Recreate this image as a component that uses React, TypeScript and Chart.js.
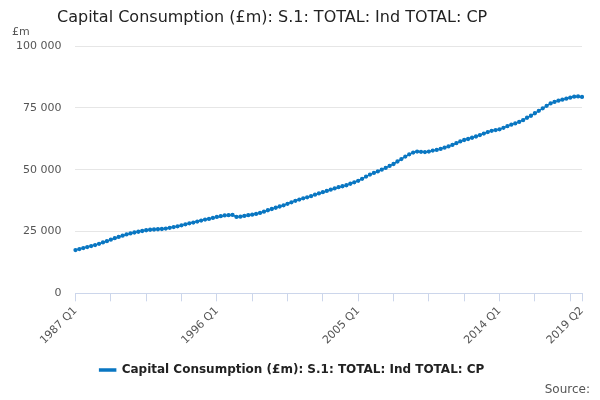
import React, { useEffect, useRef } from "react";
import { Chart, registerables } from "chart.js";
Chart.register(...registerables);

const seriesName = "Capital Consumption (£m): S.1: TOTAL: Ind TOTAL: CP";
const startYear = 1987;
const values: number[] = [
  17500,17900,18300,18700, 19100,19500,20000,20600, 21100,21700,22300,22800,
  23300,23800,24200,24600, 24900,25200,25500,25700, 25800,25900,26000,26200,
  26500,26800,27100,27500, 27900,28300,28600,29000, 29400,29800,30100,30500,
  30900,31200,31500,31600, 31700,30900,31000,31300, 31600,31800,32100,32500,
  33000,33600,34100,34600, 35100,35600,36200,36800, 37400,37900,38400,38800,
  39300,39900,40400,40900, 41400,41900,42400,42900, 43300,43700,44300,44900,
  45500,46300,47200,48000, 48700,49300,50000,50700, 51500,52300,53300,54300,
  55300,56200,56900,57300, 57200,57100,57300,57700, 58000,58400,58900,59400,
  60000,60700,61400,62000, 62400,62900,63400,64000, 64600,65200,65700,66000,
  66300,66900,67600,68200, 68700,69300,70000,71000, 71800,72800,73800,74800,
  75800,76800,77400,77900, 78300,78700,79100,79500, 79600,79400,
];
const labels: string[] = values.map((_, i) => `${startYear + Math.floor(i / 4)} Q${(i % 4) + 1}`);
const shownLabels = [0, 36, 72, 108, values.length - 1];

const fmt = (v: number) => String(v).replace(/\B(?=(\d{3})+(?!\d))/g, " ");

export default function App() {
  const ref = useRef<HTMLCanvasElement>(null);
  useEffect(() => {
    const extras = {
      id: "extras",
      afterDraw(c: any) {
        const ctx = c.ctx;
        ctx.save();
        ctx.fillStyle = "#222";
        ctx.font = "16px 'DejaVu Sans', sans-serif";
        ctx.textBaseline = "middle";
        ctx.fillText(seriesName, 57, 18);
        ctx.font = "11px 'DejaVu Sans', sans-serif";
        ctx.fillStyle = "#555";
        ctx.fillText("£m", 12, 32);
        ctx.font = "12px 'DejaVu Sans', sans-serif";
        ctx.textAlign = "right";
        ctx.fillText("Source:", 590, 390);
        ctx.restore();
      },
    };
    const chart = new Chart(ref.current!, {
      type: "line",
      data: {
        labels,
        datasets: [{
          label: seriesName,
          data: values,
          borderColor: "#0a77c2",
          backgroundColor: "#0a77c2",
          borderWidth: 1.5,
          pointRadius: 1.4,
          pointHoverRadius: 3,
          tension: 0,
        }],
      },
      options: {
        animation: false,
        responsive: false,
        layout: { padding: { top: 46, right: 18, left: 2, bottom: 14 } },
        plugins: {
          title: { display: false },
          tooltip: { enabled: false },
          legend: {
            position: "bottom",
            labels: {
              color: "#222",
              font: { size: 12, weight: "bold", family: "'DejaVu Sans', sans-serif" },
              boxWidth: 16, boxHeight: 2, padding: 14,
            },
          },
        },
        scales: {
          x: {
            grid: { drawOnChartArea: false, drawTicks: true, tickLength: 8, color: "#ccd6eb" },
            border: { color: "#ccd6eb" },
            ticks: {
              autoSkip: false,
              maxRotation: 45,
              minRotation: 45,
              color: "#555",
              font: { size: 11, family: "'DejaVu Sans', sans-serif" },
              callback: (_v: any, i: number) => {
                if (shownLabels.includes(i)) return labels[i];
                if (i % 9 === 0) return "";
                return null;
              },
            },
          },
          y: {
            min: 0, max: 100000,
            grid: { color: "#e6e6e6", drawTicks: false },
            border: { display: false },
            ticks: {
              stepSize: 25000,
              padding: 14,
              color: "#555",
              font: { size: 11, family: "'DejaVu Sans', sans-serif" },
              callback: (v: any) => fmt(Number(v)),
            },
          },
        },
      },
      plugins: [extras],
    });
    return () => chart.destroy();
  }, []);
  return (
    <div style={{ position: "absolute", left: 0, top: 0, width: 600, height: 400, background: "#fff" }}>
      <canvas ref={ref} width={600} height={400} />
    </div>
  );
}
